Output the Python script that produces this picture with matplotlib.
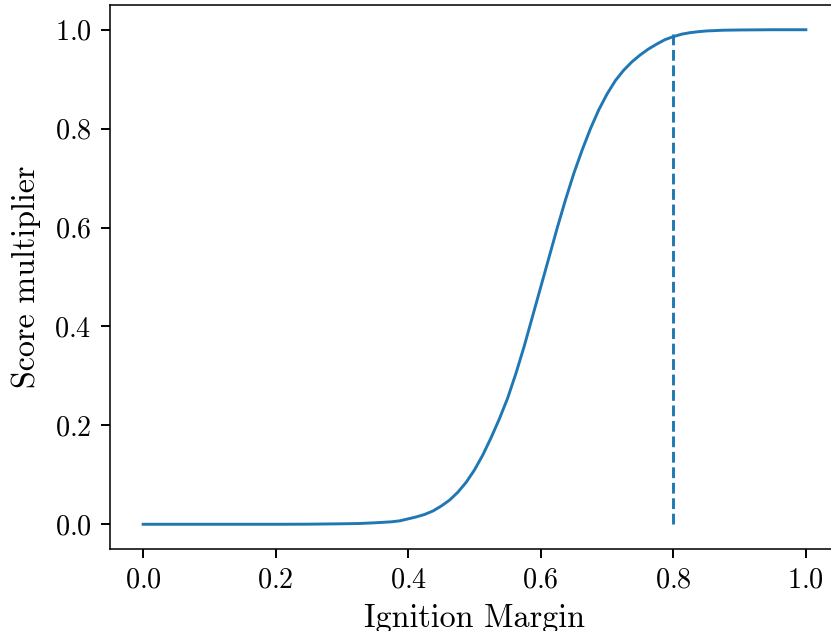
import matplotlib
matplotlib.use("Agg")
import matplotlib.pyplot as plt

## Computer Modern look for all text
plt.rcParams['font.family'] = 'serif'
plt.rcParams['font.serif'] = ['cmr10']
plt.rcParams['mathtext.fontset'] = 'cm'
plt.rcParams['axes.formatter.use_mathtext'] = True
plt.rcParams['axes.unicode_minus'] = False

## Ignition margin vs score multiplier
margin = [0.0, 0.1, 0.2, 0.25, 0.3, 0.325, 0.35, 0.375, 0.3875, 0.4,
          0.4125, 0.425, 0.4375, 0.45, 0.4625, 0.475, 0.4875, 0.5, 0.5125, 0.525,
          0.5375, 0.55, 0.5625, 0.575, 0.5875, 0.6, 0.6125, 0.625, 0.6375, 0.65,
          0.6625, 0.675, 0.6875, 0.7, 0.7125, 0.725, 0.7375, 0.75, 0.7625, 0.775,
          0.7875, 0.8, 0.8125, 0.825, 0.8375, 0.85, 0.875, 0.9, 0.95, 1.0]
score = [0.0, 0.0, 0.0, 0.0002, 0.001, 0.0015, 0.003, 0.005, 0.007, 0.011,
         0.015, 0.02, 0.027, 0.037, 0.049, 0.065, 0.085, 0.11, 0.14, 0.175,
         0.213, 0.255, 0.305, 0.36, 0.42, 0.48, 0.54, 0.6, 0.657, 0.71,
         0.757, 0.8, 0.838, 0.87, 0.897, 0.918, 0.935, 0.949, 0.961, 0.971,
         0.98, 0.986, 0.991, 0.994, 0.996, 0.9975, 0.999, 0.9995, 1.0, 1.0]

## Threshold marker
threshold = 0.8
thr_span = [0.0, 1.0]

fig = plt.figure(figsize=(831 / 140, 631 / 140), dpi=140)
ax = fig.add_axes([110 / 831, 82 / 631, 729 / 831, 544 / 631])

ax.plot(margin, score, color='C0', lw=1.5)
ax.plot([threshold, threshold], thr_span, '--', color='C0', lw=1.5)

ax.set_xlim(-0.05, 1.05)
ax.set_ylim(-0.05, 1.05)
ax.set_xticks([0.0, 0.2, 0.4, 0.6, 0.8, 1.0])
ax.set_yticks([0.0, 0.2, 0.4, 0.6, 0.8, 1.0])
ax.spines['right'].set_visible(False)
ax.tick_params(labelsize=14.5, length=4.5, width=1.0, pad=5)

ax.set_xlabel('Ignition Margin', fontsize=16.5, labelpad=5)
ax.set_ylabel('Score multiplier', fontsize=16.5, labelpad=7)

fig.savefig('out.png', dpi=140)
